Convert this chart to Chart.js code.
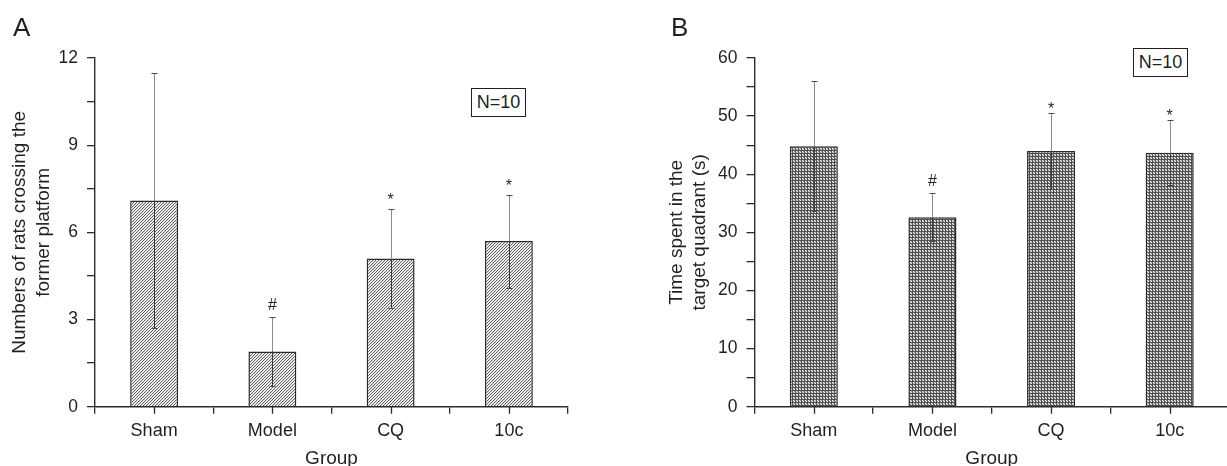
<!DOCTYPE html>
<html>
<head>
<meta charset="utf-8">
<script src="https://cdn.jsdelivr.net/npm/chart.js@4.4.1/dist/chart.umd.min.js"></script>
<style>
  html, body { margin:0; padding:0; background:#fff; overflow:hidden; width:1227px; height:466px; }
  body { position:relative; font-family:"Liberation Sans", Arial, sans-serif; color:#231f20; }
  canvas { position:absolute; top:0; }
  #cA { left:0; }
  #cB { left:600px; }
  .panel { position:absolute; font-size:26px; line-height:26px; }
  .nbox { position:absolute; box-sizing:border-box; border:1.3px solid #231f20; font-size:18px;
          display:flex; align-items:center; justify-content:center; background:#fff; }
</style>
</head>
<body>
<canvas id="cA" width="600" height="466"></canvas>
<canvas id="cB" width="632" height="466"></canvas>
<div class="panel" style="left:13px; top:14px;">A</div>
<div class="panel" style="left:671px; top:14px;">B</div>
<div class="nbox" style="left:471px; top:88px; width:55px; height:29px;">N=10</div>
<div class="nbox" style="left:1133px; top:48px; width:55px; height:29px;">N=10</div>
<script>
// ---------- data ----------
const categories = ['Sham', 'Model', 'CQ', '10c'];

const crossingMean = [7.1, 1.9, 5.1, 5.7];
const crossingSD   = [4.4, 1.2, 1.7, 1.6];
const crossingSig  = ['', '#', '*', '*'];
const crossingTicks = [0, 3, 6, 9, 12];

const timeMean = [44.8, 32.6, 44.0, 43.7];
const timeSD   = [11.2, 4.1, 6.6, 5.6];
const timeSig  = ['', '#', '*', '*'];
const timeTicks = [0, 10, 20, 30, 40, 50, 60];

const titleA = ['Numbers of rats crossing the', 'former platform'];
const titleB = ['Time spent in the', 'target quadrant (s)'];
const xTitle = 'Group';

// ---------- styles ----------
const INK = '#231f20';
const AXIS = '#2f2b2c';
const FONT = '"Liberation Sans", Arial, sans-serif';

function makeHatch() {
  const c = document.createElement('canvas');
  c.width = 3; c.height = 3;
  const g = c.getContext('2d');
  g.fillStyle = '#ffffff'; g.fillRect(0, 0, 3, 3);
  for (let x = 0; x < 3; x++) for (let y = 0; y < 3; y++) {
    const k = (x + y) % 3;
    if (k === 2) { g.fillStyle = '#626262'; g.fillRect(x, y, 1, 1); }
    else if (k === 0) { g.fillStyle = '#dcdcdc'; g.fillRect(x, y, 1, 1); }
  }
  return g.createPattern(c, 'repeat');
}
function makeGrid() {
  const c = document.createElement('canvas');
  c.width = 3; c.height = 3;
  const g = c.getContext('2d');
  g.fillStyle = '#505050'; g.fillRect(0, 0, 3, 3);
  g.fillStyle = '#f6f6f6';
  g.fillRect(1, 1, 1, 1); g.fillRect(2, 2, 1, 1);
  g.fillStyle = '#9c9c9c';
  g.fillRect(1, 2, 1, 1); g.fillRect(2, 1, 1, 1);
  return g.createPattern(c, 'repeat');
}

const errorBars = {
  id: 'errorBars',
  afterDatasetsDraw(chart, args, opts) {
    const ctx = chart.ctx;
    const y = chart.scales.y;
    const meta = chart.getDatasetMeta(0);
    const ds = chart.data.datasets[0];
    ctx.save();
    meta.data.forEach((bar, i) => {
      const v = ds.data[i], e = opts.errors[i];
      const cx = Math.round(bar.x) + 0.5;
      const yt = Math.round(y.getPixelForValue(v + e)) + 0.5;
      const yb = Math.round(y.getPixelForValue(v - e)) + 0.5;
      const ym = Math.round(y.getPixelForValue(v)) + 0.5;
      ctx.lineWidth = 1;
      ctx.strokeStyle = '#8a8a8a';
      ctx.beginPath(); ctx.moveTo(cx, yt); ctx.lineTo(cx, ym); ctx.stroke();
      ctx.strokeStyle = '#3a3a3a';
      ctx.beginPath(); ctx.moveTo(cx, ym); ctx.lineTo(cx, yb); ctx.stroke();
      ctx.strokeStyle = '#4a4a4a';
      ctx.beginPath();
      ctx.moveTo(cx - 3, yt); ctx.lineTo(cx + 3, yt);
      ctx.moveTo(cx - 3, yb); ctx.lineTo(cx + 3, yb);
      ctx.stroke();
      const mark = opts.marks[i];
      if (mark) {
        ctx.fillStyle = INK;
        ctx.font = '16px ' + FONT;
        ctx.textAlign = 'center';
        ctx.textBaseline = 'alphabetic';
        ctx.fillText(mark, bar.x, yt - opts.markGap[mark]);
      }
    });
    ctx.restore();
  }
};

const centerTicks = {
  id: 'centerTicks',
  afterDraw(chart) {
    const ctx = chart.ctx;
    const x = chart.scales.x;
    const b = chart.chartArea.bottom;
    ctx.save();
    ctx.strokeStyle = AXIS;
    ctx.lineWidth = 1.3;
    ctx.beginPath();
    x.ticks.forEach((t, i) => {
      const px = Math.round(x.getPixelForTick(i)) + 0.5;
      ctx.moveTo(px, b); ctx.lineTo(px, b + 7);
    });
    ctx.stroke();
    ctx.restore();
  }
};

function buildChart(id, cfg) {
  return new Chart(document.getElementById(id), {
    type: 'bar',
    data: {
      labels: categories,
      datasets: [{
        data: cfg.mean,
        backgroundColor: cfg.pattern,
        borderColor: '#2a2a2a',
        borderWidth: 1.5,
        barPercentage: 0.405,
        categoryPercentage: 1.0
      }]
    },
    options: {
      responsive: false,
      animation: false,
      devicePixelRatio: 1,
      layout: { padding: { left: cfg.padLeft, right: cfg.padRight, top: 58, bottom: 0 } },
      plugins: {
        legend: { display: false },
        tooltip: { enabled: false },
        errorBars: { errors: cfg.sd, marks: cfg.sig, markGap: cfg.markGap }
      },
      scales: {
        x: {
          offset: true,
          afterFit(s) { s.height = 59.3; },
          border: { color: AXIS, width: 1.4 },
          grid: { drawOnChartArea: false, offset: true, tickLength: 7, color: AXIS, lineWidth: 1.3 },
          ticks: { color: INK, font: { family: FONT, size: 18 }, padding: 7 },
          title: { display: true, text: xTitle, color: INK,
                   font: { family: FONT, size: 19, lineHeight: 1 }, padding: { top: 0, bottom: -2 } }
        },
        y: {
          min: 0, max: cfg.max,
          afterFit(s) { s.width = cfg.yWidth; },
          border: { color: AXIS, width: 1.4 },
          grid: { drawOnChartArea: false, tickLength: 8, color: AXIS, lineWidth: 1.3 },
          ticks: {
            stepSize: cfg.step, color: INK, font: { family: FONT, size: 17.5 }, padding: 9,
            autoSkip: false,
            callback: (v) => cfg.ticks.includes(v) ? String(v) : ''
          },
          title: { display: true, text: cfg.title, color: INK,
                   font: { family: FONT, size: 19, lineHeight: 1.24 }, padding: { top: cfg.titlePad, bottom: 0 } }
        }
      }
    },
    plugins: [errorBars, centerTicks]
  });
}

buildChart('cA', {
  mean: crossingMean, sd: crossingSD, sig: crossingSig, ticks: crossingTicks,
  max: 12, step: 1.5, title: titleA, pattern: makeHatch(),
  padLeft: 0, padRight: 32, yWidth: 95, titlePad: 8,
  markGap: { '#': 8, '*': 5 }
});
buildChart('cB', {
  mean: timeMean, sd: timeSD, sig: timeSig, ticks: timeTicks,
  max: 60, step: 5, title: titleB, pattern: makeGrid(),
  padLeft: 60, padRight: 3, yWidth: 94.5, titlePad: 4.7,
  markGap: { '#': 8, '*': 0 }
});
</script>
</body>
</html>
